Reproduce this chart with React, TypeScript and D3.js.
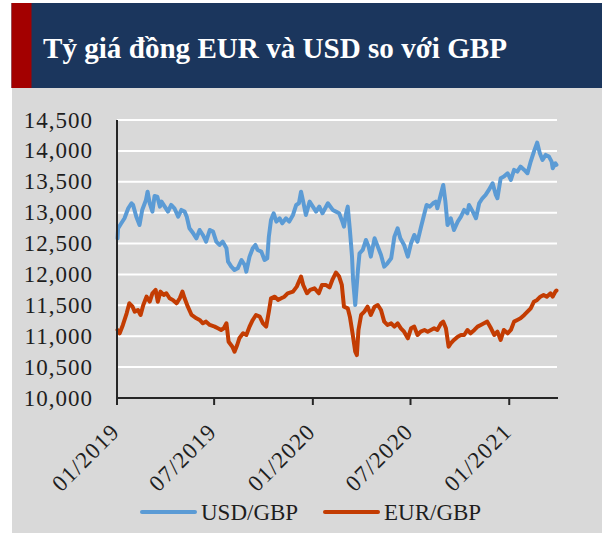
import React from "react";
import * as d3 from "d3";

const title = "Tỷ giá đồng EUR và USD so với GBP";
const seriesNames = ["USD/GBP", "EUR/GBP"];
const yTicks = [10000, 10500, 11000, 11500, 12000, 12500, 13000, 13500, 14000, 14500];
const xTickDates = ["2019-01-01", "2019-07-01", "2020-01-01", "2020-07-01", "2021-01-01"];
const xTickLabels = ["01/2019", "07/2019", "01/2020", "07/2020", "01/2021"];

const usdDates = [
  "2019-01-02","2019-01-03","2019-01-09","2019-01-15","2019-01-22","2019-01-28","2019-01-31","2019-02-06","2019-02-12","2019-02-17",
  "2019-02-24","2019-02-27","2019-03-03","2019-03-08","2019-03-12","2019-03-17","2019-03-22","2019-03-25","2019-03-31","2019-04-06",
  "2019-04-12","2019-04-18","2019-04-25","2019-05-01","2019-05-07","2019-05-11","2019-05-16","2019-05-23","2019-05-29","2019-06-04",
  "2019-06-10","2019-06-16","2019-06-23","2019-06-29","2019-07-05","2019-07-11","2019-07-17","2019-07-24","2019-07-27","2019-08-02",
  "2019-08-08","2019-08-14","2019-08-21","2019-08-27","2019-08-30","2019-09-05","2019-09-11","2019-09-16","2019-09-20","2019-09-27",
  "2019-10-03","2019-10-08","2019-10-11","2019-10-15","2019-10-20","2019-10-25","2019-10-31","2019-11-05","2019-11-12","2019-11-18",
  "2019-11-25","2019-12-01","2019-12-06","2019-12-10","2019-12-14","2019-12-19","2019-12-26","2020-01-01","2020-01-07","2020-01-13",
  "2020-01-19","2020-01-29","2020-02-07","2020-02-13","2020-02-19","2020-02-25","2020-02-28","2020-03-03","2020-03-06","2020-03-10",
  "2020-03-14","2020-03-16","2020-03-20","2020-03-25","2020-03-28","2020-04-03","2020-04-09","2020-04-14","2020-04-18","2020-04-25",
  "2020-05-01","2020-05-07","2020-05-13","2020-05-19","2020-05-26","2020-06-01","2020-06-07","2020-06-12","2020-06-19","2020-06-26",
  "2020-07-02","2020-07-08","2020-07-14","2020-07-20","2020-07-27","2020-07-31","2020-08-06","2020-08-12","2020-08-17","2020-08-20",
  "2020-08-27","2020-08-31","2020-09-04","2020-09-08","2020-09-14","2020-09-20","2020-09-27","2020-10-03","2020-10-09","2020-10-15",
  "2020-10-18","2020-10-25","2020-10-31","2020-11-06","2020-11-12","2020-11-18","2020-11-24","2020-12-01","2020-12-07","2020-12-10",
  "2020-12-16","2020-12-22","2020-12-29","2021-01-04","2021-01-10","2021-01-16","2021-01-22","2021-01-29","2021-02-04","2021-02-10",
  "2021-02-16","2021-02-22","2021-02-27","2021-03-04","2021-03-10","2021-03-16","2021-03-21","2021-03-23","2021-03-28","2021-03-30"
];
const usdValues = [
  12585,12747,12828,12909,13071,13152,13125,12935,12800,13044,
  13206,13340,13152,13017,13270,13260,13098,13179,13098,13017,
  13125,13071,12935,13044,13017,12935,12747,12666,12585,12720,
  12639,12531,12720,12693,12531,12477,12531,12423,12207,12126,
  12072,12099,12234,12153,12045,12288,12423,12477,12396,12369,
  12234,12261,12612,12882,12990,12855,12909,12828,12909,12855,
  12963,13125,13152,13340,13179,12963,13179,13098,13017,13098,
  12990,13152,13044,13017,12990,12855,12774,12990,13098,12720,
  12288,11910,11506,12072,12342,12396,12558,12450,12288,12585,
  12450,12315,12126,12180,12261,12612,12747,12585,12477,12288,
  12504,12639,12531,12747,12990,13125,13098,13152,13179,13071,
  13314,13449,13179,12800,12909,12720,12855,12935,13044,12990,
  13125,13017,12909,13152,13233,13287,13368,13476,13287,13233,
  13557,13584,13638,13530,13692,13665,13746,13692,13638,13827,
  13989,14135,13962,13854,13935,13908,13827,13719,13800,13773
];

const eurDates = [
  "2019-01-02","2019-01-06","2019-01-12","2019-01-19","2019-01-24","2019-01-30","2019-02-03","2019-02-09","2019-02-14","2019-02-19",
  "2019-02-25","2019-03-03","2019-03-08","2019-03-14","2019-03-18","2019-03-23","2019-03-29","2019-04-03","2019-04-09","2019-04-15",
  "2019-04-22","2019-04-28","2019-05-03","2019-05-07","2019-05-13","2019-05-20","2019-05-29","2019-06-04","2019-06-10","2019-06-16",
  "2019-06-23","2019-07-02","2019-07-08","2019-07-14","2019-07-19","2019-07-24","2019-07-28","2019-08-04","2019-08-08","2019-08-13",
  "2019-08-17","2019-08-24","2019-08-30","2019-09-05","2019-09-11","2019-09-17","2019-09-24","2019-09-30","2019-10-06","2019-10-11",
  "2019-10-15","2019-10-22","2019-10-28","2019-11-03","2019-11-09","2019-11-15","2019-11-25","2019-12-02","2019-12-10","2019-12-14",
  "2019-12-21","2019-12-27","2020-01-04","2020-01-12","2020-01-18","2020-01-25","2020-02-01","2020-02-07","2020-02-13","2020-02-19",
  "2020-02-24","2020-02-28","2020-03-06","2020-03-10","2020-03-15","2020-03-20","2020-03-23","2020-03-26","2020-03-31","2020-04-06",
  "2020-04-12","2020-04-18","2020-04-25","2020-05-01","2020-05-07","2020-05-13","2020-05-19","2020-05-26","2020-06-01","2020-06-07",
  "2020-06-13","2020-06-19","2020-06-26","2020-07-02","2020-07-08","2020-07-14","2020-07-20","2020-07-27","2020-08-02","2020-08-08",
  "2020-08-14","2020-08-20","2020-08-27","2020-08-31","2020-09-05","2020-09-10","2020-09-14","2020-09-20","2020-09-27","2020-10-03",
  "2020-10-09","2020-10-15","2020-10-21","2020-10-28","2020-11-03","2020-11-09","2020-11-15","2020-11-21","2020-11-28","2020-12-04",
  "2020-12-10","2020-12-16","2020-12-22","2020-12-29","2021-01-04","2021-01-10","2021-01-16","2021-01-22","2021-01-29","2021-02-04",
  "2021-02-10","2021-02-16","2021-02-22","2021-02-28","2021-03-06","2021-03-12","2021-03-19","2021-03-23","2021-03-28","2021-03-30"
];
const eurValues = [
  11101,11047,11182,11371,11533,11478,11398,11425,11344,11506,
  11640,11559,11695,11749,11559,11722,11668,11695,11614,11587,
  11533,11614,11722,11614,11478,11344,11290,11263,11209,11236,
  11182,11155,11128,11101,11128,11209,10911,10830,10749,10858,
  10966,11047,11020,11155,11263,11344,11317,11209,11155,11398,
  11614,11640,11587,11614,11640,11695,11722,11803,11965,11830,
  11695,11749,11776,11695,11830,11830,11790,11925,12030,11965,
  11830,11478,11452,11317,11047,10749,10695,11101,11344,11398,
  11478,11344,11478,11506,11425,11236,11182,11209,11155,11209,
  11128,11074,10966,11128,11155,11020,11074,11101,11074,11101,
  11128,11101,11209,11236,11128,10830,10884,10939,10993,11020,
  11020,11101,11047,11101,11155,11182,11209,11236,11128,11020,
  11074,10939,11101,11047,11101,11236,11263,11290,11344,11398,
  11452,11559,11587,11640,11668,11640,11695,11640,11722,11740
];

const colors = ["#5b9bd5", "#c33c02"];

export default function App() {
  const W = 602, H = 533;
  const left = 117, right = 557, top = 120, bottom = 398;
  const parse = d3.timeParse("%Y-%m-%d");
  const x = d3.scaleTime()
    .domain([parse("2019-01-01")!, parse("2021-03-31")!])
    .range([left, right]);
  const y = d3.scaleLinear().domain([10000, 14500]).range([bottom, top]);
  const fmt = d3.format(",");

  const series = [
    usdDates.map((d, i) => ({ date: parse(d)!, value: usdValues[i] })),
    eurDates.map((d, i) => ({ date: parse(d)!, value: eurValues[i] })),
  ];
  const line = d3.line<{ date: Date; value: number }>()
    .x(d => x(d.date))
    .y(d => y(d.value));

  const font = "'Liberation Serif', 'Times New Roman', serif";
  const textColor = "#1e1e1e";

  return (
    <svg width={W} height={H} style={{ position: "absolute", left: 0, top: 0 }}
      xmlns="http://www.w3.org/2000/svg">
      <rect x={0} y={0} width={W} height={H} fill="#ffffff" />
      {/* banner */}
      <rect x={11.5} y={3} width={W - 11.5} height={85} fill="#1b365d" />
      <rect x={11.5} y={3} width={20} height={85} fill="#a30000" />
      <text x={43} y={58} fill="#ffffff" fontFamily={font} fontWeight="bold"
        fontSize={30} textLength={464} lengthAdjust="spacingAndGlyphs">{title}</text>
      {/* chart background */}
      <rect x={12} y={88} width={W - 12} height={H - 88} fill="#d9d9d9" />
      {/* gridlines */}
      {yTicks.filter(t => t > 10000).map(t => (
        <line key={t} x1={left} x2={right} y1={y(t)} y2={y(t)} stroke="#ffffff" strokeWidth={2} />
      ))}
      {/* y labels */}
      {yTicks.map(t => (
        <text key={"l" + t} x={93} y={y(t) + 7.5} textAnchor="end" fontFamily={font}
          fontSize={23} letterSpacing={1} fill={textColor}>{fmt(t)}</text>
      ))}
      {/* series */}
      {series.map((s, i) => (
        <path key={i} d={line(s) || ""} fill="none" stroke={colors[i]} strokeWidth={4}
          strokeLinejoin="round" strokeLinecap="round" />
      ))}
      {/* axes */}
      <line x1={left} x2={left} y1={top} y2={bottom} stroke="#262626" strokeWidth={2} />
      <line x1={left - 1} x2={right + 1} y1={bottom} y2={bottom} stroke="#262626" strokeWidth={2} />
      {xTickDates.map((d, i) => {
        const xp = x(parse(d)!);
        return (
          <g key={d}>
            <line x1={xp} x2={xp} y1={bottom} y2={bottom + 7} stroke="#262626" strokeWidth={2} />
            <text transform={`translate(${xp + 4},${433}) rotate(-45)`} textAnchor="end"
              fontFamily={font} fontSize={23} letterSpacing={1.3} fill={textColor}>{xTickLabels[i]}</text>
          </g>
        );
      })}
      {/* legend */}
      {[{ x0: 142, tx: 201 }, { x0: 325, tx: 384 }].map((l, i) => (
        <g key={"lg" + i}>
          <line x1={l.x0} x2={l.x0 + 53} y1={512} y2={512} stroke={colors[i]} strokeWidth={4} strokeLinecap="round" />
          <text x={l.tx} y={519.5} fontFamily={font} fontSize={23} fill={textColor}>{seriesNames[i]}</text>
        </g>
      ))}
    </svg>
  );
}
